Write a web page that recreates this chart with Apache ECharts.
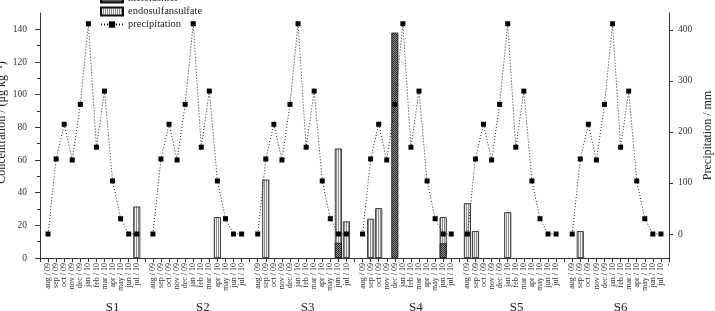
<!DOCTYPE html>
<html>
<head>
<meta charset="utf-8">
<script src="https://cdn.jsdelivr.net/npm/echarts@6/dist/echarts.min.js"></script>
<style>
html, body { margin: 0; padding: 0; background: #fff; }
#chart { width: 715px; height: 311px; }
</style>
</head>
<body>
<div id="chart"></div>
<script>
/********************* data *********************/
var months = ['aug / 09','sep / 09','oct / 09','nov / 09','dec / 09','jan / 10',
              'feb / 10','mar / 10','apr / 10','may / 10','jun / 10','jul / 10'];
var sites = ['S1','S2','S3','S4','S5','S6'];
// category index where each site name sits under the axis
var sitePos = [9, 20.2, 33.2, 46.6, 59.1, 72];

// monthly precipitation (mm), same for every site
var precipitation = [0, 147, 215, 145, 254, 412, 170, 280, 104, 30, 0, 0];

// concentrations (µg/kg), aug/09 .. jul/10 per site
var endosulfanS1 = [null,null,null,null,null,null,null,null,null,null,null,31.5];
var endosulfanS2 = [null,null,null,null,null,null,null,null,25,null,null,null];
var endosulfanS3 = [null,48,null,null,null,null,null,null,null,null,67,22.4];
var endosulfanS4 = [null,24,30.5,null,null,null,null,null,null,null,25,null];
var endosulfanS5 = [33.5,16.5,null,null,null,28,null,null,null,null,null,null];
var endosulfanS6 = [null,16.5,null,null,null,null,null,null,null,null,null,null];

var metolachlorS1 = [null,null,null,null,null,null,null,null,null,null,null,null];
var metolachlorS2 = [null,null,null,null,null,null,null,null,null,null,null,null];
var metolachlorS3 = [null,null,null,null,null,null,null,null,null,null,9.3,null];
var metolachlorS4 = [null,null,null,null,138,null,null,null,null,null,9,null];
var metolachlorS5 = [null,null,null,null,null,null,null,null,null,null,null,null];
var metolachlorS6 = [null,null,null,null,null,null,null,null,null,null,null,null];

var concTicks = [0, 20, 40, 60, 80, 100, 120, 140];
var precipTicks = [0, 100, 200, 300, 400];

/********************* build category axis *********************/
var endoAll = [endosulfanS1, endosulfanS2, endosulfanS3, endosulfanS4, endosulfanS5, endosulfanS6];
var metoAll = [metolachlorS1, metolachlorS2, metolachlorS3, metolachlorS4, metolachlorS5, metolachlorS6];

var categories = [''], endoData = [null], metoData = [null], precipData = [null];
for (var s = 0; s < sites.length; s++) {
    for (var m = 0; m < months.length; m++) {
        categories.push(months[m]);
        endoData.push(endoAll[s][m]);
        metoData.push(metoAll[s][m]);
        precipData.push(precipitation[m]);
    }
    categories.push(s == sites.length - 1 ? '-' : '');
    endoData.push(null);
    metoData.push(null);
    precipData.push(null);
}

// fill patterns
function stripePattern() {
    var c = document.createElement('canvas');
    c.width = 2; c.height = 2;
    var ctx = c.getContext('2d');
    ctx.fillStyle = '#f2f2f2'; ctx.fillRect(0, 0, 2, 2);
    ctx.fillStyle = '#8c8c8c'; ctx.fillRect(0, 0, 1, 2);
    return c;
}
function checkPattern() {
    var c = document.createElement('canvas');
    c.width = 2; c.height = 2;
    var ctx = c.getContext('2d');
    ctx.fillStyle = '#9a9a9a'; ctx.fillRect(0, 0, 2, 2);
    ctx.fillStyle = '#1e1e1e'; ctx.fillRect(0, 0, 1, 1); ctx.fillRect(1, 1, 1, 1);
    return c;
}

var serif = "'Liberation Serif', 'DejaVu Serif', serif";
var axisColor = '#333';

var chart = echarts.init(document.getElementById('chart'));
var option = {
    animation: false,
    textStyle: { fontFamily: serif },
    grid: { left: 40, right: 46, top: 13, bottom: 53, outerBoundsMode: 'none', containLabel: false },
    legend: {
        orient: 'vertical',
        left: 100,
        top: -7,
        padding: 0,
        itemGap: 2,
        itemWidth: 22,
        itemHeight: 8,
        textStyle: { fontFamily: serif, fontSize: 10.5, color: '#222', lineHeight: 10 },
        data: [
            { name: 'metolachlor', icon: 'rect' },
            { name: 'endosulfansulfate', icon: 'rect' },
            { name: 'precipitation' }
        ]
    },
    xAxis: [
        {
            type: 'category',
            data: categories,
            boundaryGap: false,
            axisLine: { lineStyle: { color: axisColor, width: 1 } },
            axisTick: { interval: 0, length: 4, lineStyle: { color: axisColor } },
            axisLabel: {
                interval: 0,
                rotate: 90,
                margin: 5,
                fontSize: 8,
                color: '#333',
                fontFamily: serif
            },
            splitLine: { show: false }
        },
        {
            type: 'value',
            min: 0,
            max: categories.length - 1,
            position: 'bottom',
            offset: 35,
            axisLine: { show: false },
            axisTick: { show: false },
            splitLine: { show: false },
            axisLabel: {
                customValues: sitePos,
                margin: 8,
                fontSize: 13,
                color: '#222',
                fontFamily: serif,
                formatter: function (v) {
                    var i = sitePos.indexOf(v);
                    return i >= 0 ? sites[i] : '';
                }
            }
        }
    ],
    yAxis: [
        {
            type: 'value',
            min: 0,
            max: 150,
            interval: 20,
            name: 'Concentration / (\u03bcg kg\u207b\u00b9)',
            nameLocation: 'middle',
            nameRotate: 90,
            nameGap: 32,
            nameMoveOverlap: false,
            nameTextStyle: { fontSize: 12, color: '#222', fontFamily: serif, padding: [0, 0, 0, 26] },
            axisLine: { show: true, lineStyle: { color: axisColor } },
            axisTick: { show: true, length: 5, customValues: concTicks, lineStyle: { color: axisColor } },
            minorTick: { show: true, splitNumber: 2, length: 3, lineStyle: { color: axisColor } },
            axisLabel: { customValues: concTicks, margin: 13, fontSize: 9.5, color: '#333', fontFamily: serif },
            splitLine: { show: false }
        },
        {
            type: 'value',
            min: -47,
            max: 433,
            position: 'right',
            name: 'Precipitation / mm',
            nameLocation: 'middle',
            nameRotate: 90,
            nameGap: 33,
            nameMoveOverlap: false,
            nameTextStyle: { fontSize: 12, color: '#222', fontFamily: serif },
            axisLine: { show: true, lineStyle: { color: axisColor } },
            axisTick: { show: true, length: 4, customValues: precipTicks, lineStyle: { color: axisColor } },
            axisLabel: { customValues: precipTicks, margin: 9, fontSize: 9.5, color: '#333', fontFamily: serif },
            splitLine: { show: false }
        }
    ],
    series: [
        {
            name: 'endosulfansulfate',
            type: 'bar',
            barWidth: 7,
            barGap: '-100%',
            data: endoData,
            itemStyle: {
                color: { image: stripePattern(), repeat: 'repeat' },
                borderColor: '#111',
                borderWidth: 0.8
            }
        },
        {
            name: 'metolachlor',
            type: 'bar',
            barWidth: 7,
            barGap: '-100%',
            data: metoData,
            itemStyle: {
                color: { image: checkPattern(), repeat: 'repeat' },
                borderColor: '#111',
                borderWidth: 0.8
            }
        },
        {
            name: 'precipitation',
            type: 'line',
            yAxisIndex: 1,
            data: precipData,
            connectNulls: false,
            symbol: 'rect',
            symbolSize: 5,
            itemStyle: { color: '#000' },
            lineStyle: { type: [1, 2], color: '#222', width: 1 }
        }
    ]
};
chart.setOption(option);
</script>
</body>
</html>
